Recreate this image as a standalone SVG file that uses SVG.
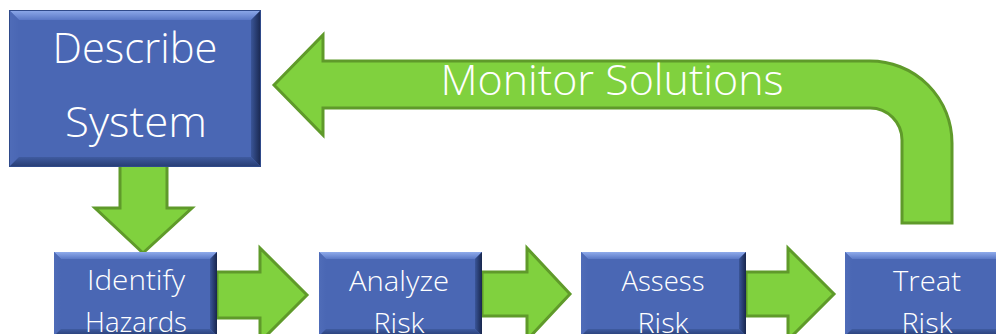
<svg xmlns="http://www.w3.org/2000/svg" width="996" height="334" viewBox="0 0 996 334">
<defs>
<linearGradient id="gTop" x1="0" y1="0" x2="0" y2="1"><stop offset="0" stop-color="#8fabeb"/><stop offset="1" stop-color="#5a78c6"/></linearGradient>
<linearGradient id="gRight" x1="0" y1="0" x2="1" y2="0"><stop offset="0" stop-color="#3a5598"/><stop offset="1" stop-color="#18264d"/></linearGradient>
<linearGradient id="gBot" x1="0" y1="0" x2="0" y2="1"><stop offset="0" stop-color="#3f5ba0"/><stop offset="1" stop-color="#263c72"/></linearGradient>
<linearGradient id="gLeft" x1="0" y1="0" x2="1" y2="0"><stop offset="0" stop-color="#4f6cb8"/><stop offset="1" stop-color="#4a67b4"/></linearGradient>
<style>
.arrow{fill:#80d13e;stroke:#5f9a2a;stroke-width:3;stroke-linejoin:miter}
.face{fill:#4a67b4}
.top{fill:url(#gTop)}
.left{fill:url(#gLeft)}
.right{fill:url(#gRight)}
.bot{fill:url(#gBot)}
.edge{fill:none;stroke:#2f4a8a;stroke-width:1}
.t{font-family:"Open Sans","Liberation Sans",sans-serif;font-weight:300;fill:#ffffff;text-anchor:middle}
.big{font-size:43px}
.small{font-size:28px}
</style>
</defs>
<rect width="996" height="334" fill="#ffffff"/>
<g id="connectors">
<path id="monitor" class="arrow" d="M274,85 L323,35 L323,61 L870,61 A82,82 0 0 1 952,143 L952,223 L902,223 L902,140 A32,32 0 0 0 870,108 L323,108 L323,135 Z"/>
<polygon class="arrow" points="120,165 167,165 167,208 192,208 143,253 95,208 120,208"/>
<polygon class="arrow" points="217,272 260,272 260,248 307,295 260,342 260,318 217,318"/>
<polygon class="arrow" points="482,272 527,272 527,248 570,294 527,340 527,316 482,316"/>
<polygon class="arrow" points="746,272 788,272 788,248 834,294 788,340 788,316 746,316"/>
<text class="t big" x="612" y="95" textLength="343" lengthAdjust="spacingAndGlyphs">Monitor Solutions</text>
</g>
<g id="describe">
<rect class="face" x="9" y="10" width="252" height="157"/>
<polygon class="top" points="9,10 261,10 251,20 19,20"/>
<polygon class="left" points="9,10 19,20 19,157 9,167"/>
<polygon class="right" points="261,10 261,167 251,157 251,20"/>
<polygon class="bot" points="9,167 261,167 251,157 19,157"/>
<rect class="edge" x="9.5" y="10.5" width="251" height="156"/>
<text class="t big" x="135" y="63" textLength="165" lengthAdjust="spacingAndGlyphs">Describe</text>
<text class="t big" x="136" y="137" textLength="142" lengthAdjust="spacingAndGlyphs">System</text>
</g>
<g id="identify">
<rect class="face" x="54" y="252" width="163" height="84"/>
<polygon class="top" points="54,252 217,252 210,259 61,259"/>
<polygon class="left" points="54,252 61,259 61,329 54,336"/>
<polygon class="right" points="217,252 217,336 210,329 210,259"/>
<polygon class="bot" points="54,336 217,336 210,329 61,329"/>
<text class="t small" x="136" y="290" textLength="98" lengthAdjust="spacingAndGlyphs">Identify</text>
<text class="t small" x="136" y="332" textLength="102" lengthAdjust="spacingAndGlyphs">Hazards</text>
</g>
<g id="analyze">
<rect class="face" x="319" y="252" width="163" height="84"/>
<polygon class="top" points="319,252 482,252 475,259 326,259"/>
<polygon class="left" points="319,252 326,259 326,329 319,336"/>
<polygon class="right" points="482,252 482,336 475,329 475,259"/>
<polygon class="bot" points="319,336 482,336 475,329 326,329"/>
<text class="t small" x="399" y="291" textLength="100" lengthAdjust="spacingAndGlyphs">Analyze</text>
<text class="t small" x="399" y="333" textLength="51" lengthAdjust="spacingAndGlyphs">Risk</text>
</g>
<g id="assess">
<rect class="face" x="581" y="252" width="165" height="84"/>
<polygon class="top" points="581,252 746,252 739,259 588,259"/>
<polygon class="left" points="581,252 588,259 588,329 581,336"/>
<polygon class="right" points="746,252 746,336 739,329 739,259"/>
<polygon class="bot" points="581,336 746,336 739,329 588,329"/>
<text class="t small" x="663" y="291" textLength="83" lengthAdjust="spacingAndGlyphs">Assess</text>
<text class="t small" x="663" y="333" textLength="51" lengthAdjust="spacingAndGlyphs">Risk</text>
</g>
<g id="treat">
<rect class="face" x="845" y="252" width="163" height="84"/>
<polygon class="top" points="845,252 1008,252 1001,259 852,259"/>
<polygon class="left" points="845,252 852,259 852,329 845,336"/>
<polygon class="bot" points="845,336 1008,336 1001,329 852,329"/>
<text class="t small" x="927" y="291" textLength="68" lengthAdjust="spacingAndGlyphs">Treat</text>
<text class="t small" x="927" y="333" textLength="51" lengthAdjust="spacingAndGlyphs">Risk</text>
</g>
</svg>
